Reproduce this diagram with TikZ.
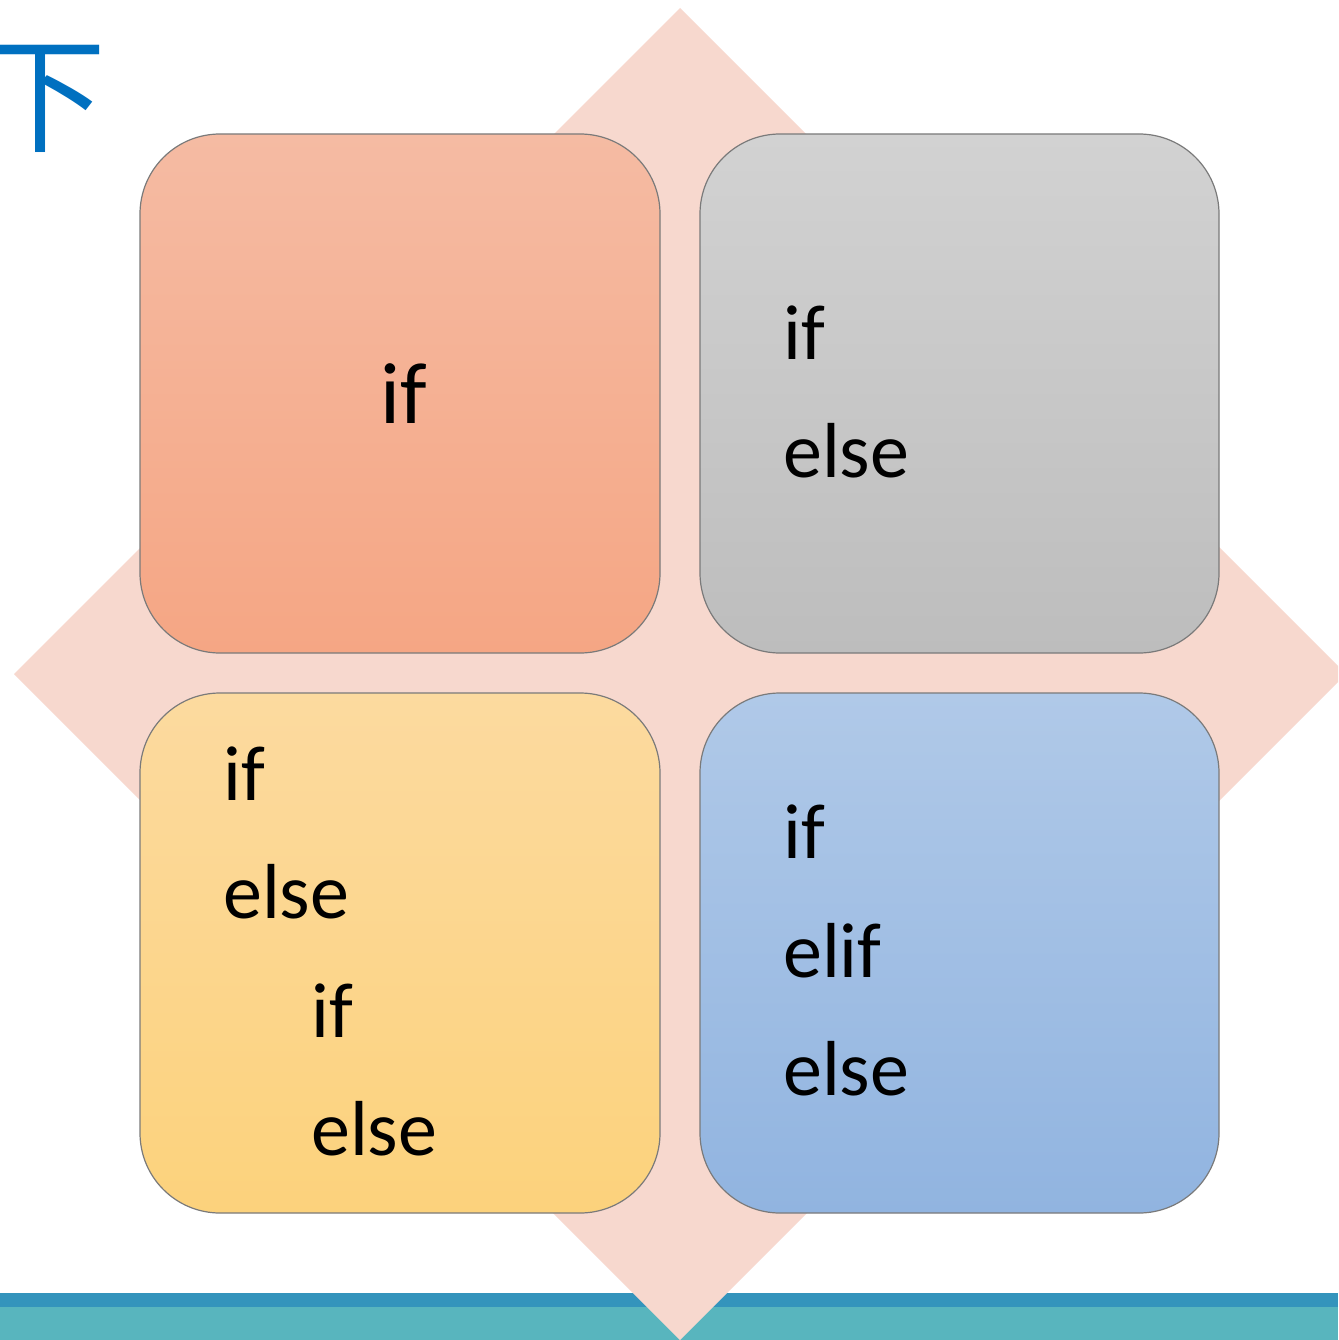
\documentclass[tikz,border=0pt]{standalone}
\usepackage{fontspec}
\setmainfont{Carlito}
\newfontfamily\cjk{Noto Sans CJK SC}
\definecolor{diam}{HTML}{F7D8CE}
\definecolor{banddark}{HTML}{3494BC}
\definecolor{bandlight}{HTML}{58B5BE}
\definecolor{glyphblue}{HTML}{0070C0}
\definecolor{edgegray}{HTML}{7A7A7A}
\definecolor{aTop}{HTML}{F5BBA3}
\definecolor{aBot}{HTML}{F5A684}
\definecolor{bTop}{HTML}{D2D2D2}
\definecolor{bBot}{HTML}{BDBDBD}
\definecolor{cTop}{HTML}{FCDA9F}
\definecolor{cBot}{HTML}{FCD27C}
\definecolor{dTop}{HTML}{B0C9E8}
\definecolor{dBot}{HTML}{91B4E0}
\tikzset{
  card/.style={draw=edgegray, line width=1.2pt, rounded corners=80pt},
  word/.style={inner sep=0pt, anchor=base west, text=black, font=\fontsize{78}{96}\selectfont},
  bigword/.style={inner sep=0pt, anchor=base, text=black, font=\fontsize{87}{100}\selectfont}
}
\begin{document}
\begin{tikzpicture}[x=1pt,y=-1pt]
\useasboundingbox (0,0) rectangle (1338,1340);
\begin{scope}
\clip (0,0) rectangle (1338,1340);
\fill[white] (0,0) rectangle (1338,1340);
\fill[banddark] (0,1293) rectangle (1338,1307);
\fill[bandlight] (0,1307) rectangle (1338,1340);
\fill[diam] (680,8) -- (1346,674) -- (680,1340) -- (14,674) -- cycle;
\node[inner sep=0pt, anchor=base west, text=glyphblue, font=\cjk\fontsize{127}{127}\selectfont] (glyph) at (-21,143) {下};
\end{scope}
\path[card, top color=aTop, bottom color=aBot] (140,134) rectangle (660,653);
\path[card, top color=bTop, bottom color=bBot] (700,134) rectangle (1219,653);
\path[card, top color=cTop, bottom color=cBot] (140,693) rectangle (660,1213);
\path[card, top color=dTop, bottom color=dBot] (700,693) rectangle (1219,1213);
\node[bigword] (tl) at (404,423) {if};
\node[word] (tr1) at (783,359) {if};
\node[word] (tr2) at (783,477) {else};
\node[word] (bl1) at (223,800) {if};
\node[word] (bl2) at (223,918) {else};
\node[word] (bl3) at (311,1037) {if};
\node[word] (bl4) at (311,1155) {else};
\node[word] (br1) at (783,858) {if};
\node[word] (br2) at (783,977) {elif};
\node[word] (br3) at (783,1095) {else};
\end{tikzpicture}
\end{document}
